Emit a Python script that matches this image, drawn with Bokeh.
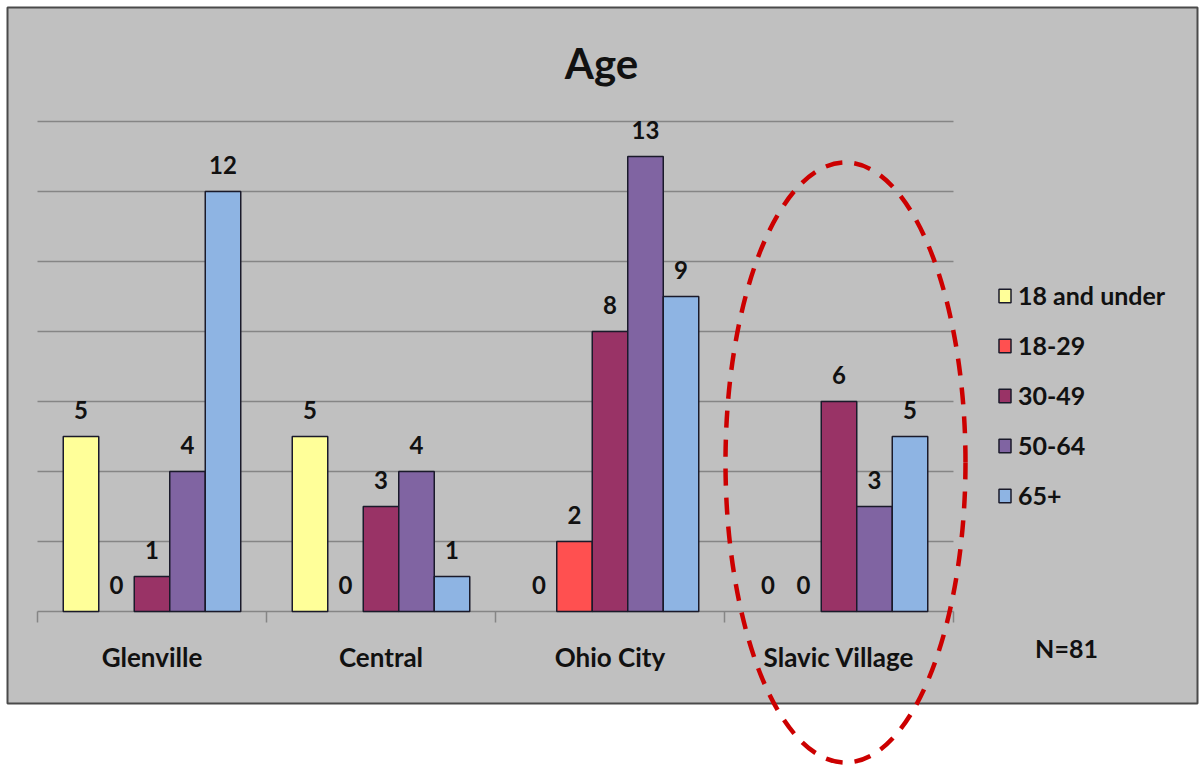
import numpy as np
from bokeh.plotting import figure
from bokeh.models import Range1d, FixedTicker, Legend, LegendItem, ColumnDataSource
from bokeh.core.properties import value
from bokeh.embed import file_html
from bokeh.resources import INLINE

# ---------------- data ----------------
neighborhoods = ["Glenville", "Central", "Ohio City", "Slavic Village"]
age_groups = ["18 and under", "18-29", "30-49", "50-64", "65+"]
under_18 = [5, 5, 0, 0]
age_18_29 = [0, 0, 2, 0]
age_30_49 = [1, 3, 8, 6]
age_50_64 = [4, 4, 13, 3]
age_65_plus = [12, 1, 9, 5]
series = [under_18, age_18_29, age_30_49, age_50_64, age_65_plus]
colors = ["#FFFF99", "#FF5050", "#993366", "#8064A2", "#8EB4E3"]
y_grid_ticks = [0, 2, 4, 6, 8, 10, 12, 14]
title_text = "Age"
sample_note = "N=81"

FONT = "Lato"
INK = "#111111"
W, H = 1199, 765
# pixel layout of the plot area: data x 0..4 -> 37..953 px, data y 0..14 -> 611..121 px
PX_L, PX_R, PX_BASE, PX_TOP = 37, 953, 611, 121
N = len(neighborhoods)
sx = (PX_R - PX_L) / N          # px per category
sy = (PX_BASE - PX_TOP) / 14.0  # px per count


def X(px):
    return (px - PX_L) / sx


def Y(py):
    return (PX_BASE - py) / sy


BAR_W = 35.5 / sx

p = figure(width=W, height=H, min_border=0,
           x_range=Range1d(X(0), X(W)), y_range=Range1d(Y(H), Y(0)),
           x_axis_location=None, y_axis_location=None,
           output_backend="svg", toolbar_location=None,
           background_fill_color="white", border_fill_color="white",
           outline_line_color=None)

# chart box (grey panel with dark border)
p.quad(left=X(7), right=X(1197), top=Y(7), bottom=Y(703),
       fill_color="#c0c0c0", line_color="#4a4a4a", line_width=2, level="image")

p.xgrid.visible = False
p.ygrid.ticker = FixedTicker(ticks=y_grid_ticks)
p.ygrid.cross_bounds = (0, N)
p.ygrid.grid_line_color = "#858585"
p.ygrid.grid_line_width = 1.5

# category boundary tick marks below the baseline
p.segment(x0=list(range(N + 1)), x1=list(range(N + 1)),
          y0=[0] * (N + 1), y1=[Y(PX_BASE + 11)] * (N + 1),
          line_color="#858585", line_width=1.5)

# category labels
p.text(x=[i + 0.5 for i in range(N)], y=[Y(656)] * N, text=neighborhoods,
       text_align="center", text_baseline="middle", text_font=value(FONT),
       text_font_style="bold", text_font_size="26px", text_color=INK)

renderers = []
lx, ly, lt = [], [], []
for k, (vals, col) in enumerate(zip(series, colors)):
    off = (k - 2) * BAR_W
    xs = [i + 0.5 + off for i in range(len(vals))]
    src = ColumnDataSource(dict(x=[x for x, v in zip(xs, vals) if v > 0],
                                top=[v for v in vals if v > 0]))
    r = p.vbar(x="x", top="top", bottom=0, width=BAR_W, source=src,
               fill_color=col, line_color="#1a1a2a", line_width=1.5)
    renderers.append(r)
    lx += xs
    ly += vals
    lt += [str(v) for v in vals]

p.text(x=lx, y=ly, text=lt, y_offset=-27, text_align="center",
       text_baseline="middle", text_font=value(FONT), text_font_style="bold",
       text_font_size="24px", text_color=INK)

# title and sample-size note
p.text(x=[X(601)], y=[Y(62)], text=[title_text], text_align="center",
       text_baseline="middle", text_font=value(FONT), text_font_style="bold",
       text_font_size="42px", text_color=INK)
p.text(x=[X(1066)], y=[Y(647)], text=[sample_note], text_align="center",
       text_baseline="middle", text_font=value(FONT), text_font_style="bold",
       text_font_size="25px", text_color=INK)

# legend: location is the legend's bottom-left corner, in px from the canvas bottom-left
legend = Legend(items=[LegendItem(label=g, renderers=[r]) for g, r in zip(age_groups, renderers)],
                location=(997, 255), glyph_width=15, glyph_height=17,
                label_height=25, spacing=20, padding=0, margin=0,
                border_line_color=None, background_fill_alpha=0,
                label_text_font=FONT, label_text_font_style="bold",
                label_text_font_size="25px", label_standoff=6,
                label_text_color=INK)
p.add_layout(legend)

# dashed highlight ellipse around Slavic Village
p.ellipse(x=[X(845)], y=[Y(462)], width=[240 / sx], height=[600 / sy],
          fill_color=None, line_color="#CC0000", line_width=4.5, line_dash="17 12")

open("out.html", "w").write(file_html(p, INLINE))
